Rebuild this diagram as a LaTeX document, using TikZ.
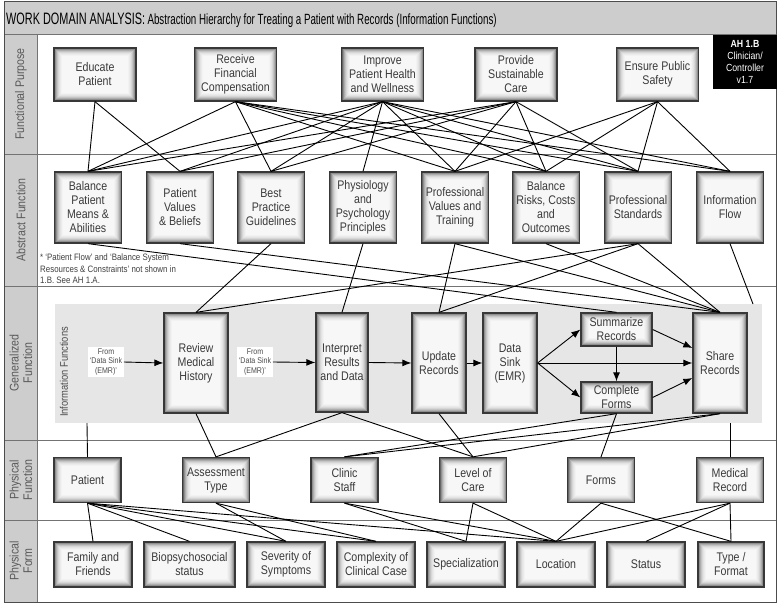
\documentclass[tikz,border=0pt]{standalone}
\usepackage{fontspec}
\setmainfont{Liberation Sans}[FakeStretch=0.85]
\newfontfamily\titlefont{Liberation Sans}[FakeStretch=0.66]
\usetikzlibrary{arrows.meta}
\definecolor{labgray}{HTML}{CDCDCD}
\definecolor{bandgray}{HTML}{E6E6E6}
\definecolor{txt}{HTML}{3A3A3A}
\tikzset{
  boxbase/.style={draw=black!78, line width=1.3pt, align=center, text=txt, inner sep=1pt,
    font=\fontsize{12.5}{14}\selectfont,
    path picture={
      \foreach \d/\c in {0/60,1/44,2/32,3/23,4/16,5/11,6/8,7/5,8/3}{
        \fill[black!\c] ([xshift=\d pt,yshift=-\d pt]path picture bounding box.north west)
          rectangle ([xshift=-\d pt,yshift=\d pt]path picture bounding box.south east);
      }
    }},
  fpbox/.style={boxbase, minimum width=82pt, minimum height=53pt},
  afbox/.style={boxbase, minimum width=67pt, minimum height=71pt},
  tallbox/.style={boxbase, minimum height=100pt},
  flatbox/.style={boxbase, minimum width=71pt, minimum height=32pt},
  pfbox/.style={boxbase, minimum width=67pt, minimum height=45pt},
  formbox/.style={boxbase, minimum width=78pt, minimum height=45pt},
  conn/.style={black, line width=0.9pt},
  flow/.style={black, line width=0.9pt, -{Latex[length=9pt,width=7pt]}},
  rowlabel/.style={rotate=90, align=center, text=black!65, font=\fontsize{12.5}{13.5}\selectfont},
  fromlab/.style={fill=white, align=center, text=black!70, inner sep=1.5pt, font=\fontsize{8.3}{9.4}\selectfont}
}
\begin{document}
\begin{tikzpicture}[x=1pt,y=-1pt]
\useasboundingbox (0,0) rectangle (778,604);
\fill[white] (0,0) rectangle (778,604);
% frame, title bar, label column
\fill[labgray] (4,2) rectangle (776,34);
\fill[labgray] (4,34) rectangle (37,602);
\foreach \yy in {34,154,286,440,520}{\draw[black!55, line width=0.6pt] (4,\yy) -- (776,\yy);}
\draw[black!55, line width=0.6pt] (37,34) -- (37,602);
\draw[black!70, line width=1pt] (4,2) rectangle (776,602);
% title
\node[anchor=base west, inner sep=0pt] (title) at (6,24.5)
  {{\titlefont\fontsize{16.5}{18}\selectfont WORK DOMAIN ANALYSIS:}\ {\titlefont\fontsize{14.8}{16}\selectfont Abstraction Hierarchy for Treating a Patient with Records (Information Functions)}};
% row labels
\node[rowlabel] (rl1) at (21,94) {Functional Purpose};
\node[rowlabel] (rl2) at (21,220) {Abstract Function};
\node[rowlabel] (rl3) at (21,363) {Generalized\\Function};
\node[rowlabel] (rl4) at (21,480) {Physical\\Function};
\node[rowlabel] (rl5) at (21,561) {Physical\\Form};
% badge
\node[fill=black, text=white, align=center, minimum width=64pt, minimum height=54pt, inner sep=0pt,
  font=\fontsize{10.3}{11.8}\selectfont] (badge) at (745,62)
  {\textbf{AH 1.B}\\Clinician/\\Controller\\v1.7};
% note
\node[anchor=north west, align=left, text=black!75, inner sep=0pt, font=\fontsize{9.3}{11.4}\selectfont] (note) at (40,254)
  {* ‘Patient Flow’ and ‘Balance System\\Resources \& Constraints’ not shown in\\1.B. See AH 1.A.};
% band
\node[fill=bandgray, minimum width=707pt, minimum height=119pt, inner sep=0pt] (band) at (408.5,363.5) {};
\node[rotate=90, text=black!70, font=\fontsize{11}{12}\selectfont] (inflab) at (64,372) {Information Functions};
\coordinate (bandTR) at (753,304);
\coordinate (bandBL) at (87,423);
\coordinate (bandBR) at (730,423);

% Functional purpose
\node[fpbox] (educ) at (95,74.5) {Educate\\Patient};
\node[fpbox] (recv) at (235.5,74.5) {Receive\\Financial\\Compensation};
\node[fpbox] (impr) at (382.5,74.5) {Improve\\Patient Health\\and Wellness};
\node[fpbox] (prov) at (516,74.5) {Provide\\Sustainable\\Care};
\node[fpbox] (ensu) at (657.5,74.5) {Ensure Public\\Safety};

% Abstract function
\node[afbox] (af1) at (88,207.5) {Balance\\Patient\\Means \&\\Abilities};
\node[afbox] (af2) at (180,207.5) {Patient\\Values\\\& Beliefs};
\node[afbox] (af3) at (271,207.5) {Best\\Practice\\Guidelines};
\node[afbox] (af4) at (363,207.5) {Physiology\\and\\Psychology\\Principles};
\node[afbox] (af5) at (455,207.5) {Professional\\Values and\\Training};
\node[afbox] (af6) at (546,207.5) {Balance\\Risks, Costs\\and\\Outcomes};
\node[afbox] (af7) at (638,207.5) {Professional\\Standards};
\node[afbox] (af8) at (730,207.5) {Information\\Flow};

% Generalized function
\node[fromlab] (from1) at (106,362) {From\\‘Data Sink\\(EMR)’};
\node[fromlab] (from2) at (255,362) {From\\‘Data Sink\\(EMR)’};
\node[tallbox, minimum width=64pt] (review) at (196,363) {Review\\Medical\\History};
\node[tallbox, minimum width=52pt, minimum height=99pt] (interp) at (342,362.5) {Interpret\\Results\\and Data};
\node[tallbox, minimum width=54pt] (update) at (439,363) {Update\\Records};
\node[tallbox, minimum width=54pt] (sink) at (510,363) {Data\\Sink\\(EMR)};
\node[flatbox, minimum height=33pt] (summ) at (616.5,329.5) {Summarize\\Records};
\node[flatbox, minimum height=31pt] (compl) at (616.5,397.5) {Complete\\Forms};
\node[tallbox, minimum width=54pt] (share) at (720,363) {Share\\Records};

% Physical function
\node[pfbox] (pat) at (87.5,480) {Patient};
\node[pfbox] (assess) at (216,480) {Assessment\\Type};
\node[pfbox] (clinic) at (344.5,480) {Clinic\\Staff};
\node[pfbox] (loc) at (473,480) {Level of\\Care};
\node[pfbox] (forms) at (601,480) {Forms};
\node[pfbox] (medrec) at (730,480) {Medical\\Record};

% Physical form
\node[formbox] (fam) at (93,564.5) {Family and\\Friends};
\node[formbox, minimum width=91pt] (bio) at (189.5,564.5) {Biopsychosocial\\status};
\node[formbox] (sev) at (286,564.5) {Severity of\\Symptoms};
\node[formbox] (cplx) at (376,564.5) {Complexity of\\Clinical Case};
\node[formbox] (spec) at (466,564.5) {Specialization};
\node[formbox] (locn) at (556,564.5) {Location};
\node[formbox] (stat) at (646,564.5) {Status};
\node[formbox, minimum width=66pt] (type) at (731,564.5) {Type /\\Format};

% FP -> AF links
\begin{scope}[conn]
\foreach \a/\b in {educ/af1,educ/af2,
  recv/af1,recv/af3,recv/af5,recv/af6,recv/af7,recv/af8,
  impr/af1,impr/af2,impr/af3,impr/af4,impr/af5,impr/af6,impr/af7,impr/af8,
  prov/af1,prov/af2,prov/af3,prov/af5,prov/af6,prov/af7,
  ensu/af5,ensu/af6,ensu/af7,ensu/af8}{
  \draw (\a.south) -- (\b.north);
}
% AF -> GF
\foreach \a/\b in {af1/summ,af2/share,af3/review,af4/interp,af5/update,af5/share,
  af6/share,af7/review,af7/update,af7/share}{
  \draw (\a.south) -- (\b.north);
}
\draw (af8.south) -- (bandTR);
% GF -> PF
\draw (bandBL) -- (pat.north);
\draw (bandBR) -- (medrec.north);
\foreach \a/\b in {review/assess,interp/assess,interp/loc,update/loc,compl/clinic,
  share/clinic,share/loc,compl/forms}{
  \draw (\a.south) -- (\b.north);
}
% PF -> PForm
\foreach \a/\b in {pat/fam,pat/bio,pat/sev,pat/cplx,pat/locn,assess/sev,assess/cplx,
  clinic/spec,clinic/locn,loc/spec,loc/locn,forms/locn,forms/type,
  medrec/locn,medrec/stat,medrec/type}{
  \draw (\a.south) -- (\b.north);
}
\end{scope}

% flows
\draw[flow] (from1.east) -- (review.west);
\draw[flow] (from2.east) -- (interp.west);
\draw[flow] (interp.east) -- (update.west);
\draw[flow] (update.east) -- (sink.west);
\draw[flow] (sink.east) -- (summ.west);
\draw[flow] (sink.east) -- (share.west);
\draw[flow] (sink.east) -- (compl.west);
\draw[flow] (summ.south) -- (compl.north);
\draw[flow] (summ.east) -- ([yshift=15pt]share.west);
\draw[flow] (compl.east) -- ([yshift=-15pt]share.west);
\end{tikzpicture}
\end{document}
